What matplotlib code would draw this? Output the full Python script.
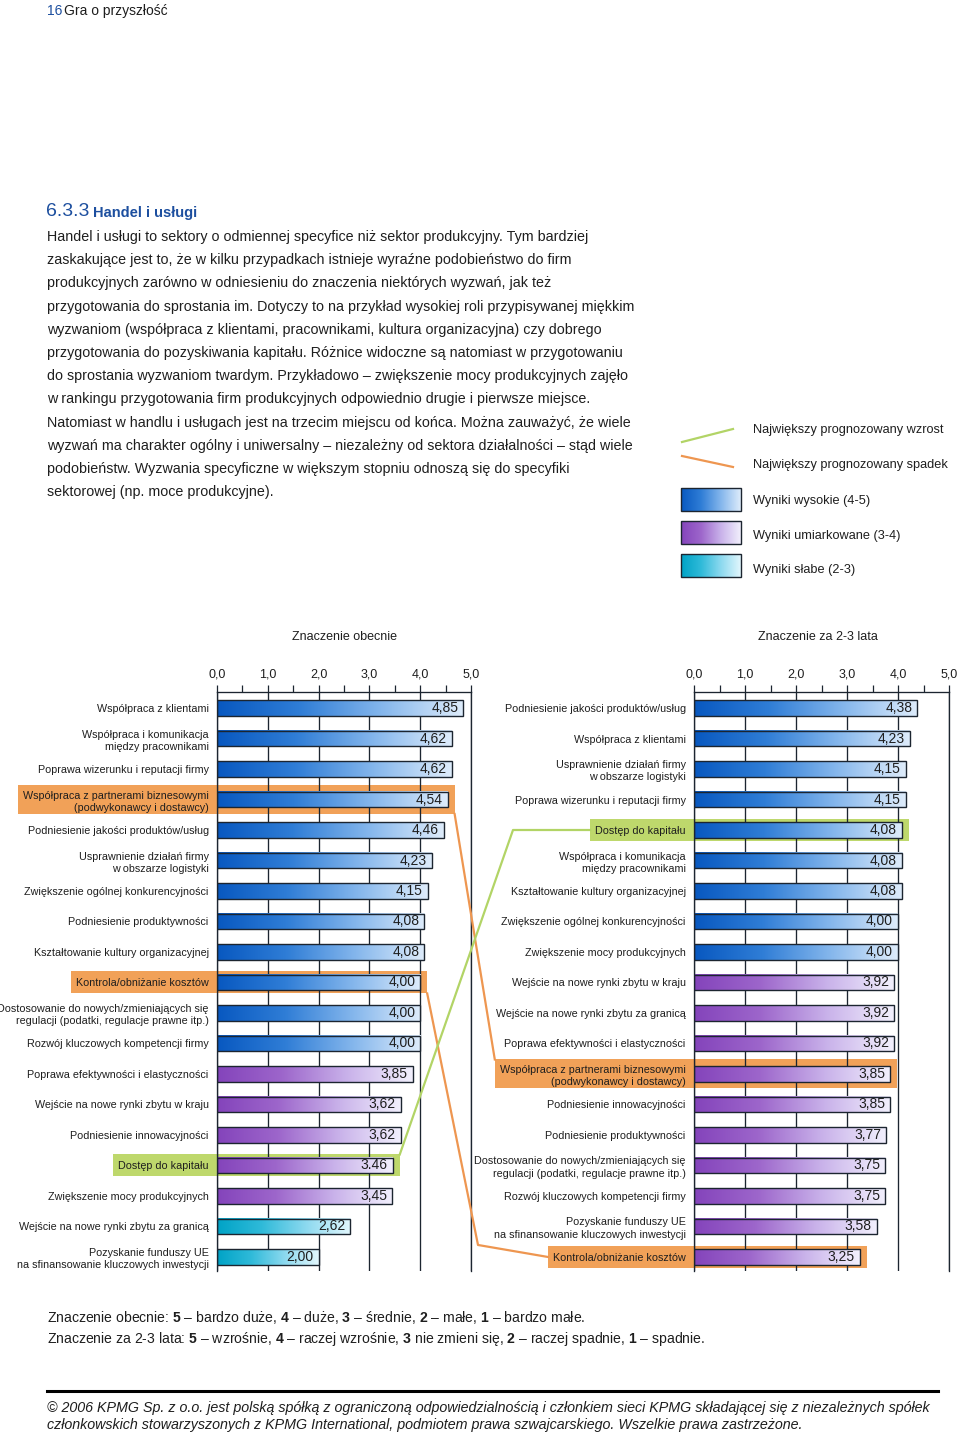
import numpy as np
import matplotlib
matplotlib.use("Agg")
import matplotlib.pyplot as plt
from matplotlib.colors import LinearSegmentedColormap
from matplotlib.patches import Rectangle
from matplotlib.lines import Line2D

# ---- data ----
labels_now = [
    "Współpraca z klientami",
    "Współpraca i komunikacja\nmiędzy pracownikami",
    "Poprawa wizerunku i reputacji firmy",
    "Współpraca z partnerami biznesowymi\n(podwykonawcy i dostawcy)",
    "Podniesienie jakości produktów/usług",
    "Usprawnienie działań firmy\nw obszarze logistyki",
    "Zwiększenie ogólnej konkurencyjności",
    "Podniesienie produktywności",
    "Kształtowanie kultury organizacyjnej",
    "Kontrola/obniżanie kosztów",
    "Dostosowanie do nowych/zmieniających się\nregulacji (podatki, regulacje prawne itp.)",
    "Rozwój kluczowych kompetencji firmy",
    "Poprawa efektywności i elastyczności",
    "Wejście na nowe rynki zbytu w kraju",
    "Podniesienie innowacyjności",
    "Dostęp do kapitału",
    "Zwiększenie mocy produkcyjnych",
    "Wejście na nowe rynki zbytu za granicą",
    "Pozyskanie funduszy UE\nna sfinansowanie kluczowych inwestycji",
]
values_now = [4.85, 4.62, 4.62, 4.54, 4.46, 4.23, 4.15, 4.08, 4.08, 4.00,
              4.00, 4.00, 3.85, 3.62, 3.62, 3.46, 3.45, 2.62, 2.00]

labels_future = [
    "Podniesienie jakości produktów/usług",
    "Współpraca z klientami",
    "Usprawnienie działań firmy\nw obszarze logistyki",
    "Poprawa wizerunku i reputacji firmy",
    "Dostęp do kapitału",
    "Współpraca i komunikacja\nmiędzy pracownikami",
    "Kształtowanie kultury organizacyjnej",
    "Zwiększenie ogólnej konkurencyjności",
    "Zwiększenie mocy produkcyjnych",
    "Wejście na nowe rynki zbytu w kraju",
    "Wejście na nowe rynki zbytu za granicą",
    "Poprawa efektywności i elastyczności",
    "Współpraca z partnerami biznesowymi\n(podwykonawcy i dostawcy)",
    "Podniesienie innowacyjności",
    "Podniesienie produktywności",
    "Dostosowanie do nowych/zmieniających się\nregulacji (podatki, regulacje prawne itp.)",
    "Rozwój kluczowych kompetencji firmy",
    "Pozyskanie funduszy UE\nna sfinansowanie kluczowych inwestycji",
    "Kontrola/obniżanie kosztów",
]
values_future = [4.38, 4.23, 4.15, 4.15, 4.08, 4.08, 4.08, 4.00, 4.00, 3.92,
                 3.92, 3.92, 3.85, 3.85, 3.77, 3.75, 3.75, 3.58, 3.25]

x_ticks = [0, 1, 2, 3, 4, 5]
x_tick_labels = ["0,0", "1,0", "2,0", "3,0", "4,0", "5,0"]

biggest_rise = ["Dostęp do kapitału"]
biggest_fall = ["Współpraca z partnerami biznesowymi\n(podwykonawcy i dostawcy)",
                "Kontrola/obniżanie kosztów"]
# the page prints this one value with a dot instead of a comma
dot_values_now = ["Dostęp do kapitału"]

legend_labels = ["Największy prognozowany wzrost", "Największy prognozowany spadek",
                 "Wyniki wysokie (4-5)", "Wyniki umiarkowane (3-4)", "Wyniki słabe (2-3)"]

paragraph = [
    "Handel i usługi to sektory o odmiennej specyfice niż sektor produkcyjny. Tym bardziej",
    "zaskakujące jest to, że w kilku przypadkach istnieje wyraźne podobieństwo do firm",
    "produkcyjnych zarówno w odniesieniu do znaczenia niektórych wyzwań, jak też",
    "przygotowania do sprostania im. Dotyczy to na przykład wysokiej roli przypisywanej miękkim",
    "wyzwaniom (współpraca z klientami, pracownikami, kultura organizacyjna) czy dobrego",
    "przygotowania do pozyskiwania kapitału. Różnice widoczne są natomiast w przygotowaniu",
    "do sprostania wyzwaniom twardym. Przykładowo – zwiększenie mocy produkcyjnych zajęło",
    "w rankingu przygotowania firm produkcyjnych odpowiednio drugie i pierwsze miejsce.",
    "Natomiast w handlu i usługach jest na trzecim miejscu od końca. Można zauważyć, że wiele",
    "wyzwań ma charakter ogólny i uniwersalny – niezależny od sektora działalności – stąd wiele",
    "podobieństw. Wyzwania specyficzne w większym stopniu odnoszą się do specyfiki",
    "sektorowej (np. moce produkcyjne).",
]

notes = [
    "Znaczenie obecnie: $\\mathbf{5}$ – bardzo duże, $\\mathbf{4}$ – duże, $\\mathbf{3}$ – średnie, "
    "$\\mathbf{2}$ – małe, $\\mathbf{1}$ – bardzo małe.",
    "Znaczenie za 2-3 lata: $\\mathbf{5}$ – wzrośnie, $\\mathbf{4}$ – raczej wzrośnie, "
    "$\\mathbf{3}$ nie zmieni się, $\\mathbf{2}$ – raczej spadnie, $\\mathbf{1}$ – spadnie.",
]

footer = [
    "© 2006 KPMG Sp. z o.o. jest polską spółką z ograniczoną odpowiedzialnością i członkiem sieci KPMG "
    "składającej się z niezależnych spółek",
    "członkowskich stowarzyszonych z KPMG International, podmiotem prawa szwajcarskiego. "
    "Wszelkie prawa zastrzeżone.",
]

# ---- style ----
W, H = 960, 1435
plt.rcParams['font.family'] = ['Liberation Sans', 'DejaVu Sans']
plt.rcParams['mathtext.fontset'] = 'custom'
plt.rcParams['mathtext.bf'] = 'Liberation Sans:bold'
plt.rcParams['mathtext.rm'] = 'Liberation Sans'

TXT = "#1e1e1e"
KPMG_BLUE = "#1d4f9f"
ORANGE = "#f1a158"
GREEN = "#bed86c"
ORANGE_LINE = "#ee9650"
GREEN_LINE = "#b2d466"
EDGE = "#1c2530"
BAR_H = 0.5
LABEL_SIZE = 7.75

CMAPS = {
    "high": LinearSegmentedColormap.from_list(
        "high", ["#0858c0", "#2f7dd6", "#84b6ec", "#deecfb"]),
    "mid": LinearSegmentedColormap.from_list(
        "mid", ["#8444bb", "#9d66cb", "#c9b2ea", "#f2f0fd"]),
    "low": LinearSegmentedColormap.from_list(
        "low", ["#00a3c6", "#2fbad9", "#8cd9ef", "#e2f7fd"]),
}
GRAD = np.linspace(0, 1, 256).reshape(1, -1)


def band(v):
    if v >= 4:
        return "high"
    if v >= 3:
        return "mid"
    return "low"


def ftext(x, y, s, **kw):
    kw.setdefault('va', 'center')
    kw.setdefault('color', TXT)
    return fig.text(x / W, 1 - y / H, s, **kw)


def draw_chart(ax, labels, values, dot_labels=()):
    n = len(values)
    for i, v in enumerate(values):
        ax.imshow(GRAD, cmap=CMAPS[band(v)], aspect='auto', zorder=2,
                  extent=(0, v, i + BAR_H / 2, i - BAR_H / 2))
    ax.barh(np.arange(n), values, height=BAR_H, facecolor='none',
            edgecolor=EDGE, lw=1.0, zorder=3)
    for i, (lab, v) in enumerate(zip(labels, values)):
        sep = "." if lab in dot_labels else ","
        ax.annotate(f"{v:.2f}".replace(".", sep), (v, i), xytext=(-5, 0),
                    textcoords='offset pixels', ha='right', va='center',
                    fontsize=10, color=TXT, zorder=4)
    ax.set_xlim(0, 5)
    ax.set_ylim(n - 1 + 0.46, -0.525)
    ax.set_facecolor('none')
    ax.xaxis.tick_top()
    ax.set_xticks(x_ticks, x_tick_labels, fontsize=9, color=TXT)
    ax.set_xticks(np.arange(0.5, 5, 1), minor=True)
    ax.tick_params(axis='x', which='both', direction='out', length=5,
                   width=0.9, pad=3, color=EDGE)
    ax.set_yticks(np.arange(n), labels, fontsize=LABEL_SIZE,
                  linespacing=1.3, color=TXT)
    ax.tick_params(axis='y', length=0, pad=6)
    ax.grid(axis='x', color=EDGE, lw=0.95)
    ax.set_axisbelow(True)
    ax.spines['bottom'].set_visible(False)
    for s in ('left', 'right', 'top'):
        ax.spines[s].set_linewidth(0.95)
        ax.spines[s].set_color(EDGE)


fig = plt.figure(figsize=(W / 100, H / 100), dpi=100)
fig.patch.set_facecolor('white')

# page-sized helper axes in pixel units (top-left origin)
bg = fig.add_axes([0, 0, 1, 1], zorder=0)
fg = fig.add_axes([0, 0, 1, 1], zorder=5)
for a in (bg, fg):
    a.set_axis_off()
    a.patch.set_alpha(0)

ax_now = fig.add_axes([217 / W, 1 - 1271 / H, 254 / W, 579 / H], zorder=2)
ax_fut = fig.add_axes([694 / W, 1 - 1271 / H, 255 / W, 579 / H], zorder=2)
draw_chart(ax_now, labels_now, values_now, dot_values_now)
draw_chart(ax_fut, labels_future, values_future)

# ---- page text ----
ftext(47, 11, "16", fontsize=10, color=KPMG_BLUE)
ftext(64, 11, "Gra o przyszłość", fontsize=10)
ftext(46, 212, "6.3.3", fontsize=14, color=KPMG_BLUE)
ftext(93, 213, "Handel i usługi", fontsize=10.5, weight='bold', color=KPMG_BLUE)
for k, line in enumerate(paragraph):
    ftext(47, 237 + k * 23.2, line, fontsize=10.25)

ftext(344, 637, "Znaczenie obecnie", fontsize=9.0, ha='center')
ftext(818, 637, "Znaczenie za 2-3 lata", fontsize=9.0, ha='center')

for k, line in enumerate(notes):
    ftext(47, 1317 + k * 22, line, fontsize=10.1)
fg.add_line(Line2D([47, 938], [1391, 1391], color='black', lw=2.2))
for k, line in enumerate(footer):
    ftext(47, 1408 + k * 17.5, line, fontsize=10.25, style='italic')

# ---- legend ----
fg.add_line(Line2D([682, 733], [442, 429], color=GREEN_LINE, lw=1.6))
fg.add_line(Line2D([682, 733], [456, 467], color=ORANGE_LINE, lw=1.6))
for k, key in enumerate(["high", "mid", "low"]):
    top = 488 + k * 33
    fg.imshow(GRAD, cmap=CMAPS[key], aspect='auto', extent=(681, 741, top + 23, top))
    fg.add_patch(Rectangle((681, top), 60, 23, facecolor='none', edgecolor=EDGE, lw=1.0))
for k, lab in enumerate(legend_labels):
    ftext(753, [430, 465, 501, 536, 570][k], lab, fontsize=9.2)

for a in (bg, fg):
    a.set_xlim(0, W)
    a.set_ylim(H, 0)

# ---- highlight boxes and connectors ----
fig.canvas.draw()
renderer = fig.canvas.get_renderer()


def box_for(ax, labels, values, lab):
    i = labels.index(lab)
    bb = ax.get_yticklabels()[i].get_window_extent(renderer)
    x_end = ax.transData.transform((values[i], i))
    cy = H - x_end[1]
    h = 29 if "\n" in lab else 22
    x0 = bb.x0 - 5
    x1 = x_end[0] + 7
    return x0, cy - h / 2, x1, cy + h / 2


# elbow of each connector in page pixels (x, offset from target centre)
ROUTES = {
    biggest_fall[0]: None,
    biggest_fall[1]: (478, -12),
    biggest_rise[0]: (513, 0),
}

for group, fill, line_col in ((biggest_fall, ORANGE, ORANGE_LINE),
                              (biggest_rise, GREEN, GREEN_LINE)):
    for lab in group:
        L = box_for(ax_now, labels_now, values_now, lab)
        R = box_for(ax_fut, labels_future, values_future, lab)
        for x0, y0, x1, y1 in (L, R):
            bg.add_patch(Rectangle((x0, y0), x1 - x0, y1 - y0, facecolor=fill,
                                   edgecolor='none'))
        r_cy = (R[1] + R[3]) / 2
        going_down = r_cy > (L[1] + L[3]) / 2
        start = (L[2], L[3] if going_down else L[1])
        route = ROUTES[lab]
        if route is None:
            xs, ys = [start[0], R[0]], [start[1], R[1]]
        else:
            xs = [start[0], route[0], R[0]]
            ys = [start[1], r_cy + route[1], r_cy]
        fg.add_line(Line2D(xs, ys, color=line_col, lw=1.6))

fig.savefig("out.png", dpi=100, facecolor='white')
